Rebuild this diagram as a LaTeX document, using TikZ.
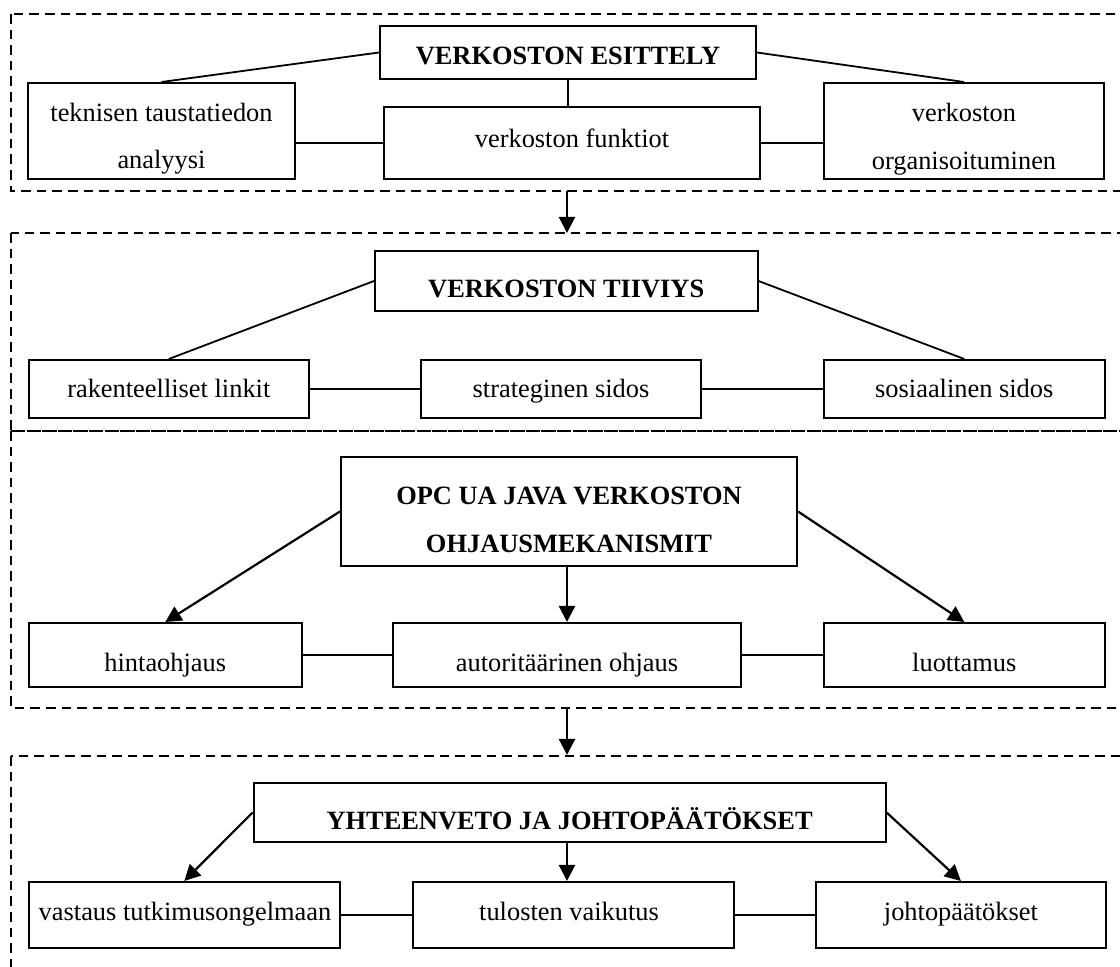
\documentclass[tikz,border=0pt]{standalone}
\usepackage{fontspec}
\setmainfont{Liberation Serif}
\usetikzlibrary{arrows.meta}

\tikzset{
  box/.style={draw, line width=1pt, rectangle, inner sep=0pt, fill=white},
  txt/.style={inner sep=0pt, anchor=base, font=\fontsize{13.2}{15}\selectfont},
  head/.style={txt, font=\fontsize{13.2}{15}\selectfont\bfseries},
  frame/.style={draw, line width=0.75pt, dash pattern=on 4.8pt off 3pt},
  link/.style={draw, line width=0.9pt},
  flow/.style={draw, line width=1.1pt, -{Triangle[length=8pt,width=8pt]}},
}

\begin{document}
\begin{tikzpicture}[x=0.5pt, y=-0.5pt]
\useasboundingbox (0,0) rectangle (1120,967);
\clip (0,0) rectangle (1120,967);
\fill[white] (0,0) rectangle (1120,967);

% dashed section frames (they run past the right and bottom edges)
\draw[frame] (11,14) rectangle (1135,191);
\draw[frame] (11,233) rectangle (1135,431);
\draw[frame] (11,431) rectangle (1135,708);
\draw[frame] (11,756) rectangle (1135,990);

% vertical spine used by the straight arrows
\coordinate (spine) at (567,0);

% ---- section 1 ----
\node[box, minimum width=188pt, minimum height=26.5pt] (esit) at (568,52.5) {};
\node[box, minimum width=133.5pt, minimum height=48pt] (tekn) at (161.5,131) {};
\node[box, minimum width=188pt, minimum height=36pt] (funk) at (572,143) {};
\node[box, minimum width=140pt, minimum height=48pt] (org) at (964,131) {};

\node[head] (esitT) at (568,65) {VERKOSTON ESITTELY};
\node[txt] (teknT1) at (161.5,122) {teknisen taustatiedon};
\node[txt] (teknT2) at (161.5,169) {analyysi};
\node[txt] (funkT) at (572,148) {verkoston funktiot};
\node[txt] (orgT1) at (964,122) {verkoston};
\node[txt] (orgT2) at (964,170) {organisoituminen};

\draw[link] (esit.west) -- (tekn.north);
\draw[link] (esit.east) -- (org.north);
\draw[link] (esit.south) -- (funk.north -| esit.south);
\draw[link] (tekn.east |- funk.west) -- (funk.west);
\draw[link] (funk.east) -- (org.west |- funk.east);

% ---- section 2 ----
\node[box, minimum width=191.25pt, minimum height=30pt] (tiiv) at (566.25,281) {};
\node[box, minimum width=140.2pt, minimum height=29pt] (rak) at (168.8,389) {};
\node[box, minimum width=140pt, minimum height=29pt] (strat) at (561,389) {};
\node[box, minimum width=140.3pt, minimum height=29pt] (sos) at (964.3,389) {};

\node[head] (tiivT) at (566.25,298) {VERKOSTON TIIVIYS};
\node[txt] (rakT) at (168.8,398) {rakenteelliset linkit};
\node[txt] (stratT) at (561,398) {strateginen sidos};
\node[txt] (sosT) at (964.3,398) {sosiaalinen sidos};

\draw[link] (tiiv.west) -- (rak.north);
\draw[link] (tiiv.east) -- (sos.north);
\draw[link] (rak.east) -- (strat.west);
\draw[link] (strat.east) -- (sos.west);

% ---- section 3 ----
\node[box, minimum width=228pt, minimum height=54.5pt] (opc) at (569,511.5) {};
\node[box, minimum width=136.7pt, minimum height=32pt] (hinta) at (165.3,655) {};
\node[box, minimum width=174pt, minimum height=32pt] (auth) at (567,655) {};
\node[box, minimum width=140.3pt, minimum height=32pt] (luot) at (964.3,655) {};

\node[head] (opcT1) at (569,505) {OPC UA JAVA VERKOSTON};
\node[head] (opcT2) at (569,553) {OHJAUSMEKANISMIT};
\node[txt] (hintaT) at (165.3,672) {hintaohjaus};
\node[txt] (authT) at (567,672) {autoritäärinen ohjaus};
\node[txt] (luotT) at (964.3,672) {luottamus};

\draw[flow] (opc.west) -- (hinta.north);
\draw[flow] (opc.south -| spine) -- (auth.north -| spine);
\draw[flow] (opc.east) -- (luot.north);
\draw[link] (hinta.east) -- (auth.west);
\draw[link] (auth.east) -- (luot.west);

% ---- section 4 ----
\node[box, minimum width=316pt, minimum height=29.5pt] (yht) at (569.6,812.5) {};
\node[box, minimum width=155.7pt, minimum height=33pt] (vast) at (184.3,915) {};
\node[box, minimum width=160.5pt, minimum height=33pt] (tul) at (573.5,915) {};
\node[box, minimum width=144.85pt, minimum height=33pt] (joh) at (960.9,915) {};

\node[head] (yhtT) at (569.6,830) {YHTEENVETO JA JOHTOPÄÄTÖKSET};
\node[txt] (vastT) at (185,921) {vastaus tutkimusongelmaan};
\node[txt] (tulT) at (569,921) {tulosten vaikutus};
\node[txt] (johT) at (960.9,921) {johtopäätökset};

\draw[flow] (yht.west) -- (vast.north);
\draw[flow] (yht.south -| spine) -- (tul.north -| spine);
\draw[flow] (yht.east) -- (joh.north);
\draw[link] (vast.east) -- (tul.west);
\draw[link] (tul.east) -- (joh.west);

% ---- arrows between sections ----
\coordinate (s1out) at (567,191);
\coordinate (s2in) at (567,233);
\coordinate (s3out) at (567,708);
\coordinate (s4in) at (567,755);
\draw[flow] (s1out) -- (s2in);
\draw[flow] (s3out) -- (s4in);
\end{tikzpicture}
\end{document}
